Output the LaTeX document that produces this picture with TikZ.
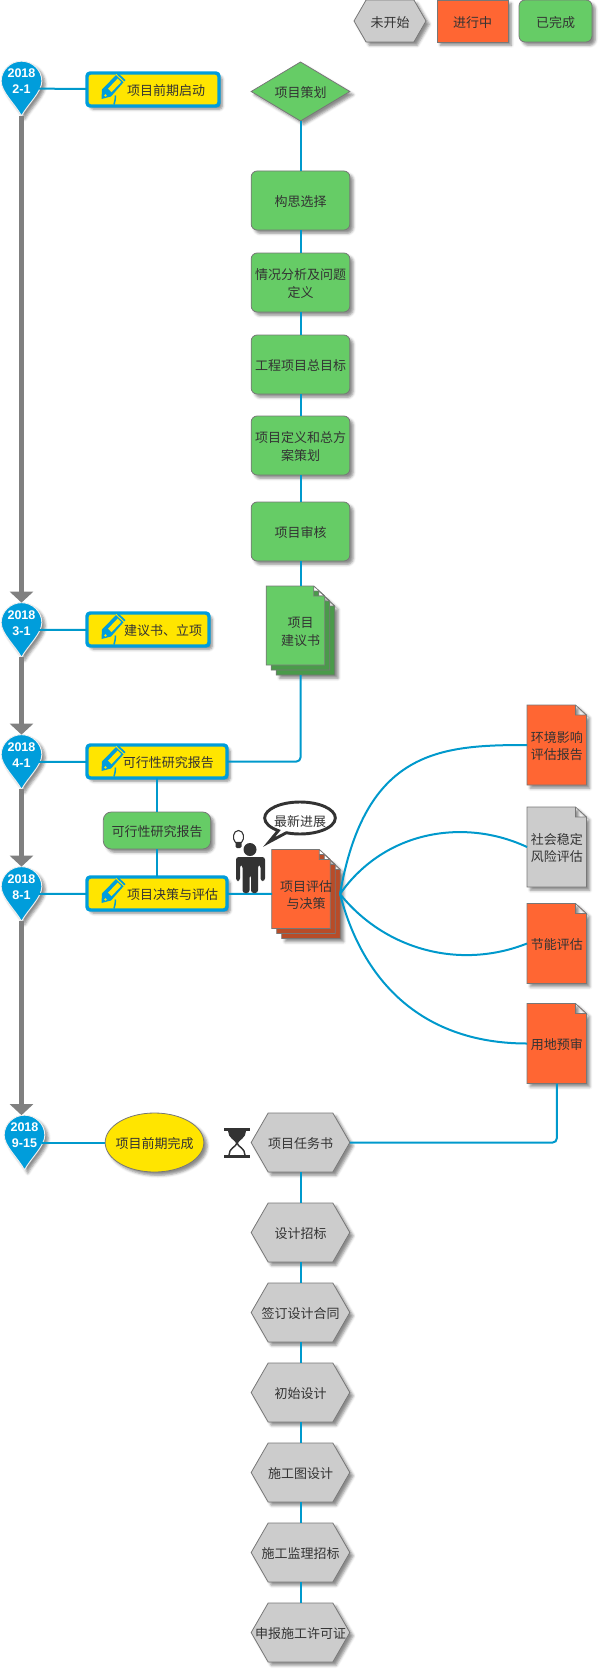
\documentclass[tikz,border=0pt]{standalone}
\usepackage{fontspec}
\setmainfont{Noto Sans CJK SC}
\newfontfamily\datefont{Liberation Sans}
\usetikzlibrary{arrows.meta, positioning, shapes.geometric, shapes.callouts, shadows.blur}

\newdimen\shpl \newdimen\shpr \newdimen\shpb \newdimen\shpt \newdimen\shpm \newdimen\shpc
\makeatletter
\def\shapebounds{%
  \southwest \shpl=\pgf@x \shpb=\pgf@y
  \northeast \shpr=\pgf@x \shpt=\pgf@y
}
\makeatother

% rectangle anchors, own outlines
\pgfdeclareshape{hexshape}{
  \inheritsavedanchors[from=rectangle]
  \inheritanchorborder[from=rectangle]
  \inheritanchor[from=rectangle]{center}
  \inheritanchor[from=rectangle]{text}
  \inheritanchor[from=rectangle]{north}
  \inheritanchor[from=rectangle]{south}
  \inheritanchor[from=rectangle]{east}
  \inheritanchor[from=rectangle]{west}
  \backgroundpath{
    \shapebounds
    \shpm=.5\shpt \advance\shpm by .5\shpb
    \shpc=\shpt \advance\shpc by -\shpb \shpc=.288\shpc
    \pgfpathmoveto{\pgfqpoint{\shpl}{\shpm}}
    \pgfpathlineto{\pgfpoint{\shpl+\shpc}{\shpt}}
    \pgfpathlineto{\pgfpoint{\shpr-\shpc}{\shpt}}
    \pgfpathlineto{\pgfqpoint{\shpr}{\shpm}}
    \pgfpathlineto{\pgfpoint{\shpr-\shpc}{\shpb}}
    \pgfpathlineto{\pgfpoint{\shpl+\shpc}{\shpb}}
    \pgfpathclose
  }
}
\pgfdeclareshape{docshape}{
  \inheritsavedanchors[from=rectangle]
  \inheritanchorborder[from=rectangle]
  \inheritanchor[from=rectangle]{center}
  \inheritanchor[from=rectangle]{text}
  \inheritanchor[from=rectangle]{north}
  \inheritanchor[from=rectangle]{south}
  \inheritanchor[from=rectangle]{east}
  \inheritanchor[from=rectangle]{west}
  \backgroundpath{
    \shapebounds
    \pgfpathmoveto{\pgfqpoint{\shpl}{\shpb}}
    \pgfpathlineto{\pgfqpoint{\shpl}{\shpt}}
    \pgfpathlineto{\pgfpoint{\shpr-8.25pt}{\shpt}}
    \pgfpathlineto{\pgfpoint{\shpr}{\shpt-7.5pt}}
    \pgfpathlineto{\pgfqpoint{\shpr}{\shpb}}
    \pgfpathclose
    \pgfpathmoveto{\pgfpoint{\shpr-8.25pt}{\shpt}}
    \pgfpathlineto{\pgfpoint{\shpr-8.25pt}{\shpt-7.5pt}}
    \pgfpathlineto{\pgfpoint{\shpr}{\shpt-7.5pt}}
  }
}
\pgfdeclareshape{dropshape}{
  \inheritsavedanchors[from=rectangle]
  \inheritanchorborder[from=rectangle]
  \inheritanchor[from=rectangle]{center}
  \inheritanchor[from=rectangle]{text}
  \inheritanchor[from=rectangle]{north}
  \inheritanchor[from=rectangle]{south}
  \inheritanchor[from=rectangle]{east}
  \inheritanchor[from=rectangle]{west}
  \backgroundpath{
    \shapebounds
    \shpm=.5\shpl \advance\shpm by .5\shpr
    \pgfpathmoveto{\pgfqpoint{\shpm}{\shpb}}
    \pgfpathcurveto{\pgfpoint{\shpm-5pt}{\shpb+9pt}}{\pgfpoint{\shpl}{\shpt-23pt}}{\pgfpoint{\shpl}{\shpt-15pt}}
    \pgfpathcurveto{\pgfpoint{\shpl}{\shpt-6.7pt}}{\pgfpoint{\shpm-8.3pt}{\shpt}}{\pgfqpoint{\shpm}{\shpt}}
    \pgfpathcurveto{\pgfpoint{\shpm+8.3pt}{\shpt}}{\pgfpoint{\shpr}{\shpt-6.7pt}}{\pgfpoint{\shpr}{\shpt-15pt}}
    \pgfpathcurveto{\pgfpoint{\shpr}{\shpt-23pt}}{\pgfpoint{\shpm+5pt}{\shpb+9pt}}{\pgfqpoint{\shpm}{\shpb}}
    \pgfpathclose
  }
}

\definecolor{linkblue}{HTML}{0099CC}
\definecolor{pinblue}{HTML}{009DDB}
\definecolor{labelyellow}{HTML}{FFE500}
\definecolor{donegreen}{HTML}{66CC66}
\definecolor{doneback}{HTML}{4A9A4A}
\definecolor{workorange}{HTML}{FF6633}
\definecolor{workback}{HTML}{B84C28}
\definecolor{waitgrey}{HTML}{CCCCCC}
\definecolor{edgegrey}{HTML}{777777}
\definecolor{inkgrey}{HTML}{333333}

\begin{document}
\begin{tikzpicture}[
    x=0.75pt, y=-0.75pt,
    softshadow/.style={blur shadow={shadow xshift=2.5pt, shadow yshift=-2.5pt,
        shadow blur radius=2pt, shadow opacity=45}},
    every node/.style={font=\fontsize{9.75pt}{13.3pt}\selectfont, text=inkgrey,
        align=center, inner sep=0pt, outer sep=0pt, text height=10pt},
    twolines/.style={text height=23pt},
    flat/.style={draw=edgegrey, line width=0.6pt},
    greenbox/.style={flat, softshadow, rectangle, rounded corners=4.5pt, fill=donegreen,
        minimum width=74pt, minimum height=44.25pt},
    hexbox/.style={flat, softshadow, shape=hexshape, fill=waitgrey,
        minimum width=74pt, minimum height=44.25pt},
    docbox/.style={flat, softshadow, shape=docshape, fill=workorange,
        minimum width=44.6pt, minimum height=60pt},
    sheet/.style={flat, shape=docshape, minimum width=44pt, minimum height=59.25pt},
    stacktext/.style={twolines, minimum width=51pt, minimum height=66.75pt},
    datepin/.style={shape=dropshape, fill=pinblue, draw=white!88!gray, line width=0.7pt, softshadow,
        minimum width=30.5pt, minimum height=41pt, text=white, text height=20pt, text depth=12pt,
        font=\datefont\bfseries\fontsize{9.4pt}{12pt}\selectfont},
    stagebox/.style={rectangle, draw=pinblue, line width=2.6pt, rounded corners=2.5pt,
        fill=labelyellow, softshadow, minimum height=24.75pt},
    link/.style={draw=linkblue, line width=1.5pt},
    timebar/.style={draw=gray, line width=4.1pt,
        -{Triangle[width=17.25pt, length=8.25pt]}},
    pics/pencil/.style={code={
        \fill[pinblue] (14.5,9.5) -- (15,0) -- (31,-16.5) -- (38.5,-9.5) -- (24,7) -- cycle;
        \fill[labelyellow] (21,-0.8) -- (30.6,-10.9) -- (34.2,-7.5) -- (24.6,2.6) -- cycle;
        \fill[labelyellow] (17.2,6) -- (18.4,4.6) -- (19.8,5.9) -- (18.6,7.3) -- cycle;
        \draw[labelyellow, line width=0.7pt] (29,-15.2) -- (38.4,-6.2);
        \draw[pinblue, line width=1.1pt] (28.5,6) .. controls (29,9) and (27.5,12) .. (27,15);
    }}
]
\useasboundingbox (0,0) rectangle (602,1673);

% legend
\node[hexbox, minimum width=54pt, minimum height=31.5pt] (legendwait) at (390,21) {未开始};
\node[flat, softshadow, rectangle, fill=workorange, minimum width=53.25pt, minimum height=31.5pt] (legendwork) at (472.5,21) {进行中};
\node[greenbox, minimum width=54.75pt, minimum height=31.5pt] (legenddone) at (555.5,21) {已完成};

% timeline
\node[datepin] (pinfeb) at (21.5,88.5) {2018\\2-1};
\node[datepin] (pinmar) at (21.5,630) {2018\\3-1};
\node[datepin] (pinapr) at (21.5,762) {2018\\4-1};
\node[datepin] (pinaug) at (21.5,894) {2018\\8-1};
\node[datepin] (pinsep) at (24.5,1142.5) {2018\\9-15};

\draw[timebar] (pinfeb.south) -- (pinmar.north);
\draw[timebar] (pinmar.south) -- (pinapr.north);
\draw[timebar] (pinapr.south) -- (pinaug.north);
\draw[timebar] (pinaug.south) -- (pinaug.south |- pinsep.north);

% stage labels
\node[stagebox, minimum width=99pt] (kickoff) at (153,89.5) {\hspace*{19.5pt}项目前期启动};
\node[stagebox, minimum width=91.5pt] (proposal) at (148,629.5) {\hspace*{22.5pt}建议书、立项};
\node[stagebox, minimum width=105pt] (feasible) at (157,761.5) {\hspace*{17pt}可行性研究报告};
\node[stagebox, minimum width=105pt] (decision) at (157,893.5) {\hspace*{23.5pt}项目决策与评估};
\pic at (kickoff.west) {pencil};
\pic at (proposal.west) {pencil};
\pic at (feasible.west) {pencil};
\pic at (decision.west) {pencil};

\node[greenbox, minimum width=80.5pt, minimum height=27.75pt, rounded corners=6pt] (feasreport) at (157,830.5) {可行性研究报告};
\node[ellipse, flat, softshadow, fill=labelyellow, minimum width=74pt, minimum height=44.25pt] (prepdone) at (154.5,1142.5) {\makebox[0pt]{项目前期完成}};

% planning column
\node[diamond, flat, softshadow, fill=donegreen, minimum width=74pt, minimum height=44.25pt, aspect=1.66] (planning) at (300.5,91.5) {项目策划};
\node[greenbox] (concept) at (300.5,200.5) {构思选择};
\node[greenbox, twolines] (situation) at (300.5,282.5) {情况分析及问题\\定义};
\node[greenbox] (goal) at (300.5,364.5) {工程项目总目标};
\node[greenbox, twolines] (scheme) at (300.5,445.5) {项目定义和总方\\案策划};
\node[greenbox] (audit) at (300.5,531.5) {项目审核};

% proposal stack
\node[sheet, softshadow, fill=doneback] (adviceback) at (305.5,635.5) {};
\node[sheet, fill=doneback] (advicemid) at (300.5,630.5) {};
\node[sheet, fill=donegreen] (advicefront) at (295.5,625.5) {};
\node[stacktext] (advice) at (300.5,630.5) {项目\\建议书};

% evaluation stack
\node[sheet, softshadow, fill=workback] (evalback) at (311,899) {};
\node[sheet, fill=workback] (evalmid) at (306,894) {};
\node[sheet, fill=workorange] (evalfront) at (301,889) {};
\node[stacktext] (evaluation) at (306,894) {项目评估\\与决策};

% reports
\node[docbox, twolines] (envreport) at (556.75,745) {环境影响\\评估报告};
\node[docbox, twolines, fill=waitgrey] (stability) at (556.75,847) {社会稳定\\风险评估};
\node[docbox] (energy) at (556.75,943.5) {节能评估};
\node[docbox] (landuse) at (556.75,1043.5) {用地预审};

% execution column
\node[hexbox] (mission) at (300.5,1142.5) {项目任务书};
\node[hexbox, below=23.25pt of mission] (designbid) {设计招标};
\node[hexbox, below=15.75pt of designbid] (contract) {签订设计合同};
\node[hexbox, below=15.75pt of contract] (firstdesign) {初始设计};
\node[hexbox, below=15.75pt of firstdesign] (drawings) {施工图设计};
\node[hexbox, below=15.75pt of drawings] (supervision) {施工监理招标};
\node[hexbox, below=15.75pt of supervision] (permit) {申报施工许可证};

% connectors
\draw[link, shorten <=-2pt] (pinfeb) -- (kickoff);
\draw[link, shorten <=-2pt] (pinmar) -- (proposal);
\draw[link, shorten <=-2pt] (pinapr) -- (feasible);
\draw[link, shorten <=-2pt] (pinaug) -- (decision);
\draw[link, shorten <=-2pt] (pinsep) -- (prepdone);
\draw[link] (feasible) -- (feasreport);
\draw[link] (feasreport) -- (decision);
\draw[link] (decision) -- (evaluation);
\draw[link] (planning) -- (concept);
\draw[link] (concept) -- (situation);
\draw[link] (situation) -- (goal);
\draw[link] (goal) -- (scheme);
\draw[link] (scheme) -- (audit);
\draw[link] (audit) -- (advice);
\draw[link, rounded corners=3pt] (advice.south) |- (feasible.east);
\draw[link] (evaluation.east) .. controls (365,750) and (440,745) .. (envreport.west);
\draw[link] (evaluation.east) .. controls (385,830) and (465,818) .. (stability.west);
\draw[link] (evaluation.east) .. controls (385,950) and (460,970) .. (energy.west);
\draw[link] (evaluation.east) .. controls (365,990) and (430,1043.5) .. (landuse.west);
\draw[link, rounded corners=3pt] (landuse.south) |- (mission.east);
\draw[link] (mission) -- (designbid);
\draw[link] (designbid) -- (contract);
\draw[link] (contract) -- (firstdesign);
\draw[link] (firstdesign) -- (drawings);
\draw[link] (drawings) -- (supervision);
\draw[link] (supervision) -- (permit);

% bubble, person, bulb, hourglass
\node[ellipse callout, draw=inkgrey, fill=white, line width=2.2pt, minimum width=53pt, minimum height=24pt, text height=0pt,
    callout absolute pointer={(269,842)}] (progress) at (300,818) {\smash{\raisebox{-6.5pt}{\makebox[0pt]{最新进展}}}};
\fill[inkgrey] (250,849.5) circle (6.5);
\fill[inkgrey, rounded corners=2] (236,881) -- (236,857) -- (265,857) -- (265,881) -- (260.5,881) -- (260.5,865) -- (258,865)
    -- (258,893) -- (251,893) -- (251,875) -- (249.5,875) -- (249.5,893) -- (242.5,893) -- (242.5,865) -- (240,865) -- (240,881) -- cycle;
\draw[inkgrey, line width=0.8pt, fill=white] (235.5,842.5) .. controls (232,839) and (233,830.5) .. (238.5,830.5)
    .. controls (244,830.5) and (245,839) .. (241.5,842.5) -- cycle;
\fill[inkgrey, rounded corners=1] (235.5,842) rectangle (241.5,848);
\fill[inkgrey] (224,1128) rectangle (250,1131);
\fill[inkgrey] (224,1155) rectangle (250,1158);
\fill[inkgrey] (228,1131) -- (246,1131) .. controls (246,1138) and (239,1140) .. (238,1143) -- (236,1143) .. controls (235,1140) and (228,1138) .. (228,1131) -- cycle;
\draw[inkgrey, line width=1.1pt] (229,1155) .. controls (229,1148) and (236,1147) .. (237,1143) .. controls (238,1147) and (245,1148) .. (245,1155);

\end{tikzpicture}
\end{document}
